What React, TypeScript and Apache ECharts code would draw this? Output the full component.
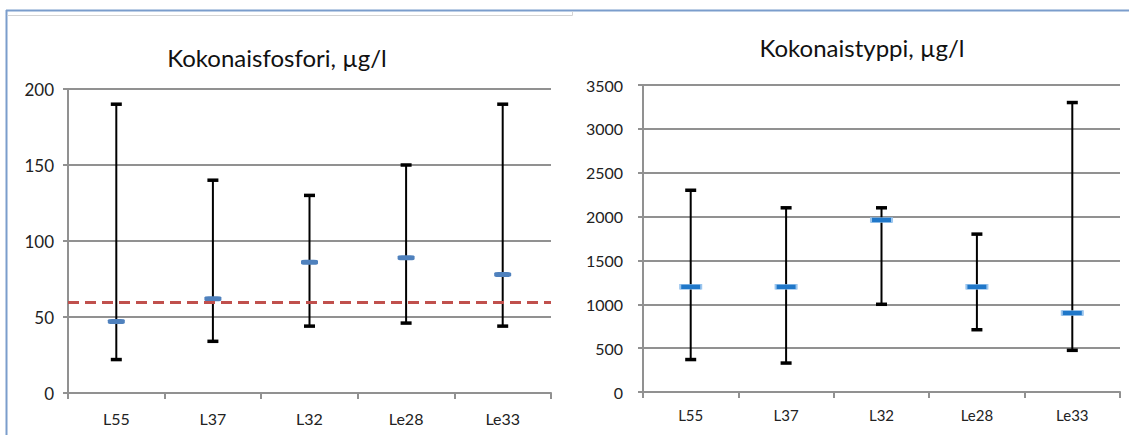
import React, { useEffect, useRef } from "react";
import * as echarts from "echarts";

const categories = ["L55", "L37", "L32", "Le28", "Le33"];

const phosTitle = "Kokonaisfosfori, µg/l";
const phosMin = [22, 34, 44, 46, 44];
const phosMax = [190, 140, 130, 150, 190];
const phosMean = [47, 62, 86, 89, 78];
const phosLimit = 60;
const phosTicks = { min: 0, max: 200, interval: 50 };

const nitTitle = "Kokonaistyppi, µg/l";
const nitMin = [370, 330, 1000, 710, 475];
const nitMax = [2300, 2100, 2100, 1800, 3300];
const nitMean = [1200, 1200, 1960, 1200, 900];
const nitTicks = { min: 0, max: 3500, interval: 500 };

const FONT = "Lato, 'Noto Sans', sans-serif";
const GRID_COLOR = "#919191";

function errorRender(params: any, api: any) {
  const idx = api.value(0);
  const lo = api.coord([idx, api.value(1)]);
  const hi = api.coord([idx, api.value(2)]);
  const cap = 5.5;
  const st = { stroke: "#000", lineWidth: 2 };
  const capSt = { stroke: "#000", lineWidth: 3.5 };
  return {
    type: "group",
    children: [
      { type: "line", shape: { x1: lo[0], y1: lo[1], x2: hi[0], y2: hi[1] }, style: st },
      { type: "line", shape: { x1: lo[0] - cap, y1: lo[1], x2: lo[0] + cap, y2: lo[1] }, style: capSt },
      { type: "line", shape: { x1: hi[0] - cap, y1: hi[1], x2: hi[0] + cap, y2: hi[1] }, style: capSt },
    ],
  };
}

export default function App() {
  const ref = useRef<HTMLDivElement>(null);
  useEffect(() => {
    if (!ref.current) return;
    const chart = echarts.init(ref.current, undefined, { renderer: "svg" });
    const xAxisBase = (gridIndex: number, fontSize: number, margin: number) => ({
      type: "category" as const,
      gridIndex,
      data: categories,
      boundaryGap: true,
      axisLine: { show: true, lineStyle: { color: GRID_COLOR, width: 2 } },
      axisTick: { show: true, alignWithLabel: false, length: 6, lineStyle: { color: GRID_COLOR, width: 2 } },
      axisLabel: { color: "#222", fontSize, fontFamily: FONT, margin },
      splitLine: { show: false },
    });
    const yAxisBase = (gridIndex: number, t: any, fontSize: number, margin: number) => ({
      type: "value" as const,
      gridIndex,
      min: t.min,
      max: t.max,
      interval: t.interval,
      axisLine: { show: true, lineStyle: { color: GRID_COLOR, width: 2 } },
      axisTick: { show: true, length: 5, lineStyle: { color: GRID_COLOR, width: 2 } },
      axisLabel: {
        color: "#222",
        fontSize,
        fontFamily: FONT,
        margin,
        formatter: (v: number) => String(v),
      },
      splitLine: { show: true, lineStyle: { color: GRID_COLOR, width: 2 } },
    });
    const option: any = {
      animation: false,
      backgroundColor: "#ffffff",
      title: [
        {
          text: phosTitle,
          left: 272,
          top: 40,
          textAlign: "center",
          textStyle: { fontFamily: FONT, fontSize: 24, fontWeight: "normal", color: "#111" },
        },
        {
          text: nitTitle,
          left: 857,
          top: 30,
          textAlign: "center",
          textStyle: { fontFamily: FONT, fontSize: 24, fontWeight: "normal", color: "#111" },
        },
      ],
      grid: [
        { left: 68, right: 578, top: 89, bottom: 42 },
        { left: 643, right: 9, top: 85, bottom: 43 },
      ],
      xAxis: [xAxisBase(0, 16, 17), xAxisBase(1, 15, 15)],
      yAxis: [yAxisBase(0, phosTicks, 17, 14), yAxisBase(1, nitTicks, 16, 20)],
      graphic: [
        { type: "line", shape: { x1: 6, y1: 10.5, x2: 1129, y2: 10.5 }, style: { stroke: "#7b9dcc", lineWidth: 2 } },
        { type: "line", shape: { x1: 6.5, y1: 10, x2: 6.5, y2: 435 }, style: { stroke: "#7b9dcc", lineWidth: 2 } },
        { type: "line", shape: { x1: 7.5, y1: 15.5, x2: 572.5, y2: 15.5 }, style: { stroke: "#d4d4d4", lineWidth: 1 } },
        { type: "line", shape: { x1: 572.5, y1: 11.5, x2: 572.5, y2: 15.5 }, style: { stroke: "#d4d4d4", lineWidth: 1 } },
      ],
      series: [
        {
          type: "custom",
          xAxisIndex: 0,
          yAxisIndex: 0,
          renderItem: errorRender,
          data: categories.map((_, i) => [i, phosMin[i], phosMax[i]]),
          z: 3,
        },
        {
          type: "scatter",
          xAxisIndex: 0,
          yAxisIndex: 0,
          symbol: "roundRect",
          symbolSize: [17, 5],
          itemStyle: { color: "#4f81bd", opacity: 1 },
          data: categories.map((_, i) => [i, phosMean[i]]),
          z: 4,
          markLine: {
            silent: true,
            symbol: "none",
            label: { show: false },
            lineStyle: { color: "#c0504d", width: 3, type: [11, 6] },
            data: [{ yAxis: phosLimit }],
          },
        },
        {
          type: "custom",
          xAxisIndex: 1,
          yAxisIndex: 1,
          renderItem: errorRender,
          data: categories.map((_, i) => [i, nitMin[i], nitMax[i]]),
          z: 3,
        },
        {
          type: "scatter",
          xAxisIndex: 1,
          yAxisIndex: 1,
          symbol: "rect",
          symbolSize: [21, 5],
          itemStyle: { color: "#1f77c9", borderColor: "#9cc6ee", borderWidth: 1, opacity: 1 },
          data: categories.map((_, i) => [i, nitMean[i]]),
          z: 4,
        },
      ],
    };
    chart.setOption(option);
    return () => chart.dispose();
  }, []);
  return (
    <div
      ref={ref}
      style={{ position: "fixed", left: 0, top: 0, width: 1129, height: 435, background: "#fff" }}
    />
  );
}
